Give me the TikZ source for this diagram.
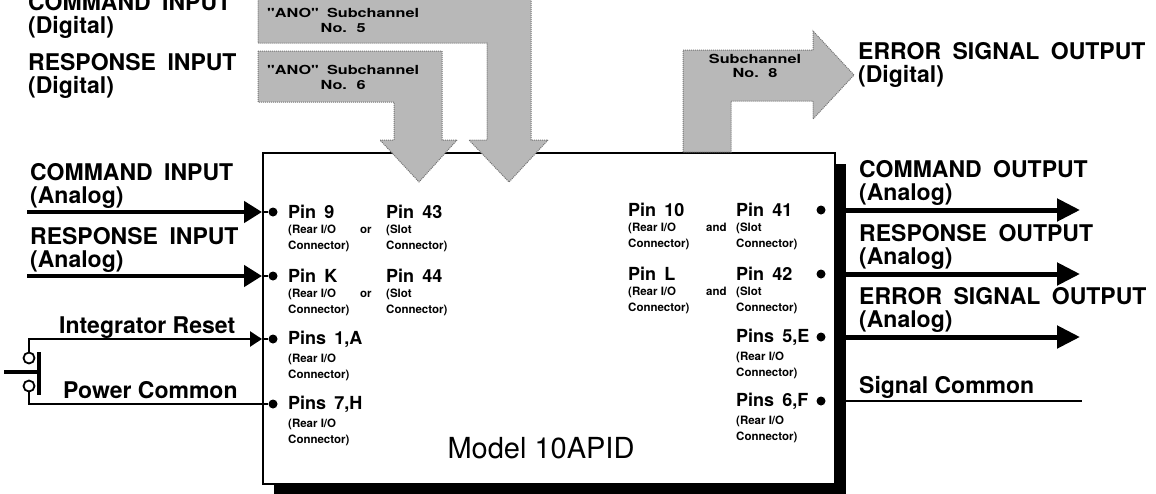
\documentclass[tikz,border=0pt]{standalone}
\usepackage{fontspec}
\setmainfont{TeX Gyre Heros}
\usetikzlibrary{arrows.meta,positioning,calc,shadows}
\newcommand\stretched[1]{\scalebox{1.3}[1]{#1}}

\tikzset{
  biglabel/.style={font=\fontsize{23}{23}\selectfont\bfseries\spaceskip 0.5em\relax,align=left,inner sep=0pt,anchor=south west},
  pinlabel/.style={font=\fontsize{18}{18}\selectfont\bfseries\spaceskip 0.45em\relax,inner sep=0pt,anchor=west},
  pinnote/.style={font=\fontsize{11.5}{16}\selectfont\bfseries,inner sep=0pt,align=left},
  pindot/.style={circle,fill=black,inner sep=0pt,minimum size=9pt},
  chanarrow/.style={fill=black!28,draw=black!55,densely dotted,line width=1pt},
  chantext/.style={font=\fontsize{12.5}{13}\selectfont\bfseries\spaceskip 0.5em\relax,inner sep=0pt},
  inarrow/.style={line width=4.5pt,-{Triangle[length=18pt,width=21pt]}},
  resetarrow/.style={line width=2.5pt,-{Triangle[length=12pt,width=15pt]}},
  outarrow/.style={line width=5pt,-{Triangle[length=23pt,width=22pt]}},
  wire/.style={line width=2pt},
  contact/.style={draw,circle,line width=1.8pt,minimum size=11pt,inner sep=0pt}
}

\begin{document}
\begin{tikzpicture}[x=1pt,y=-1pt]
\useasboundingbox (0,0) rectangle (1156,493);

% the module
\node[draw,line width=2pt,fill=white,minimum width=572pt,minimum height=331pt,inner sep=0pt,anchor=north west,
  drop shadow={shadow xshift=11pt,shadow yshift=-11pt,fill=black,opacity=1}] (box) at (262,152) {};
\node[font=\fontsize{29}{29}\selectfont] (model) at (541,448) {Model 10APID};

% subchannels
\filldraw[chanarrow] (258,-10) -- (531,-10) -- (531,140) -- (548,140) -- (509,182) -- (469,140)
  -- (487,140) -- (487,43) -- (258,43) -- cycle;
\filldraw[chanarrow] (258,51) -- (442,51) -- (442,140) -- (457,140) -- (419,182) -- (380,140)
  -- (394,140) -- (394,102) -- (258,102) -- cycle;
\filldraw[chanarrow] (683,152) -- (683,50) -- (813,50) -- (813,31) -- (854,75) -- (813,119)
  -- (813,101) -- (731,101) -- (731,152) -- cycle;
\node[chantext,anchor=west] (ano5) at (267,13) {\stretched{\textquotedbl ANO\textquotedbl{} Subchannel}};
\node[chantext,below=5pt of ano5] (no5) {\stretched{No. 5}};
\node[chantext,anchor=west] (ano6) at (267,70) {\stretched{\textquotedbl ANO\textquotedbl{} Subchannel}};
\node[chantext,below=5pt of ano6] (no6) {\stretched{No. 6}};
\node[chantext] (sub8) at (755,59) {\stretched{Subchannel}};
\node[chantext,below=4pt of sub8] (no8) {\stretched{No. 8}};

\node[biglabel] (cmddig) at (28,39) {COMMAND INPUT\\(Digital)};
\node[biglabel] (respdig) at (28,99) {RESPONSE INPUT\\(Digital)};
\node[biglabel] (errdig) at (858,88) {ERROR SIGNAL OUTPUT\\(Digital)};

% input pins
\node[pindot] (p9dot) at (273,212) {};
\node[pinlabel] (p9) at (288,212) {Pin 9};
\node[pinnote,below right=6pt and 0pt of p9.south west] (p9note) {(Rear I/O\\Connector)};
\node[pinnote,anchor=base west] (p9or) at (360,233) {or};
\node[pinlabel] (p43) at (386,212) {Pin 43};
\node[pinnote,below right=6pt and 0pt of p43.south west] (p43note) {(Slot\\Connector)};

\node[pindot] (pkdot) at (273,276) {};
\node[pinlabel] (pk) at (288,276) {Pin K};
\node[pinnote,below right=6pt and 0pt of pk.south west] (pknote) {(Rear I/O\\Connector)};
\node[pinnote,anchor=base west] (pkor) at (360,297) {or};
\node[pinlabel] (p44) at (386,276) {Pin 44};
\node[pinnote,below right=6pt and 0pt of p44.south west] (p44note) {(Slot\\Connector)};

\node[pindot] (p1adot) at (273,339) {};
\node[pinlabel] (p1a) at (288,339) {Pins 1,A};
\node[pinnote,below right=6pt and 0pt of p1a.south west] (p1anote) {(Rear I/O\\Connector)};

\node[pindot] (p7hdot) at (273,404) {};
\node[pinlabel] (p7h) at (288,404) {Pins 7,H};
\node[pinnote,below right=6pt and 0pt of p7h.south west] (p7hnote) {(Rear I/O\\Connector)};

% output pins
\node[pinlabel] (p10) at (628,210) {Pin 10};
\node[pinnote,below right=6pt and 0pt of p10.south west] (p10note) {(Rear I/O\\Connector)};
\node[pinnote,anchor=base west] (p10and) at (706,231) {and};
\node[pinlabel] (p41) at (736,210) {Pin 41};
\node[pinnote,below right=6pt and 0pt of p41.south west] (p41note) {(Slot\\Connector)};
\node[pindot] (p41dot) at (821,210) {};

\node[pinlabel] (pl) at (628,274) {Pin L};
\node[pinnote,below right=6pt and 0pt of pl.south west] (plnote) {(Rear I/O\\Connector)};
\node[pinnote,anchor=base west] (pland) at (706,295) {and};
\node[pinlabel] (p42) at (736,274) {Pin 42};
\node[pinnote,below right=6pt and 0pt of p42.south west] (p42note) {(Slot\\Connector)};
\node[pindot] (p42dot) at (821,274) {};

\node[pinlabel] (p5e) at (736,337) {Pins 5,E};
\node[pinnote,below right=6pt and 0pt of p5e.south west] (p5enote) {(Rear I/O\\Connector)};
\node[pindot] (p5edot) at (821,337) {};

\node[pinlabel] (p6f) at (736,401) {Pins 6,F};
\node[pinnote,below right=6pt and 0pt of p6f.south west] (p6fnote) {(Rear I/O\\Connector)};
\node[pindot] (p6fdot) at (821,401) {};

% analog inputs
\node[biglabel] (cmdlab) at (30,209) {COMMAND INPUT\\(Analog)};
\coordinate (cmdin) at (27,212);
\draw[inarrow] (cmdin) -- (box.west |- p9dot);
\draw[wire] (box.west |- p9dot) -- (p9dot);

\node[biglabel] (resplab) at (30,273) {RESPONSE INPUT\\(Analog)};
\coordinate (respin) at (27,276);
\draw[inarrow] (respin) -- (box.west |- pkdot);
\draw[wire] (box.west |- pkdot) -- (pkdot);

% reset switch
\node[pinlabel,font=\fontsize{23}{23}\selectfont\bfseries,anchor=base west] (resetlab) at (59,333) {Integrator Reset};
\node[pinlabel,font=\fontsize{23}{23}\selectfont\bfseries,anchor=base west] (pwrlab) at (63,398) {Power Common};
\node[contact] (swa) at (29,358) {};
\node[contact] (swb) at (29,386) {};
\coordinate (swtop) at (29,339);
\coordinate (swbot) at (29,404);
\draw[resetarrow] (swa.north) -- (swtop) -- (box.west |- p1adot);
\draw[wire] (box.west |- p1adot) -- (p1adot);
\draw[wire] (swb.south) -- (swbot) -- (p7hdot);
\coordinate (bartop) at (39,352);
\coordinate (barbot) at (39,395);
\coordinate (rod) at (4,372);
\draw[line width=4pt] (bartop) -- (barbot);
\draw[line width=4pt] (rod) -- (rod -| bartop);

% analog outputs
\node[biglabel] (cmdoutlab) at (859,206) {COMMAND OUTPUT\\(Analog)};
\coordinate (cmdout) at (1080,210);
\draw[outarrow] (box.east |- p41dot) -- (cmdout);

\node[biglabel] (respoutlab) at (859,270) {RESPONSE OUTPUT\\(Analog)};
\coordinate (respout) at (1080,274);
\draw[outarrow] (box.east |- p42dot) -- (respout);

\node[biglabel] (erroutlab) at (859,333) {ERROR SIGNAL OUTPUT\\(Analog)};
\coordinate (errout) at (1080,337);
\draw[outarrow] (box.east |- p5edot) -- (errout);

\node[pinlabel,font=\fontsize{23}{23}\selectfont\bfseries,anchor=base west] (siglab) at (859,393) {Signal Common};
\coordinate (sigcom) at (1082,401);
\draw[wire] (box.east |- p6fdot) -- (sigcom);
\end{tikzpicture}
\end{document}
